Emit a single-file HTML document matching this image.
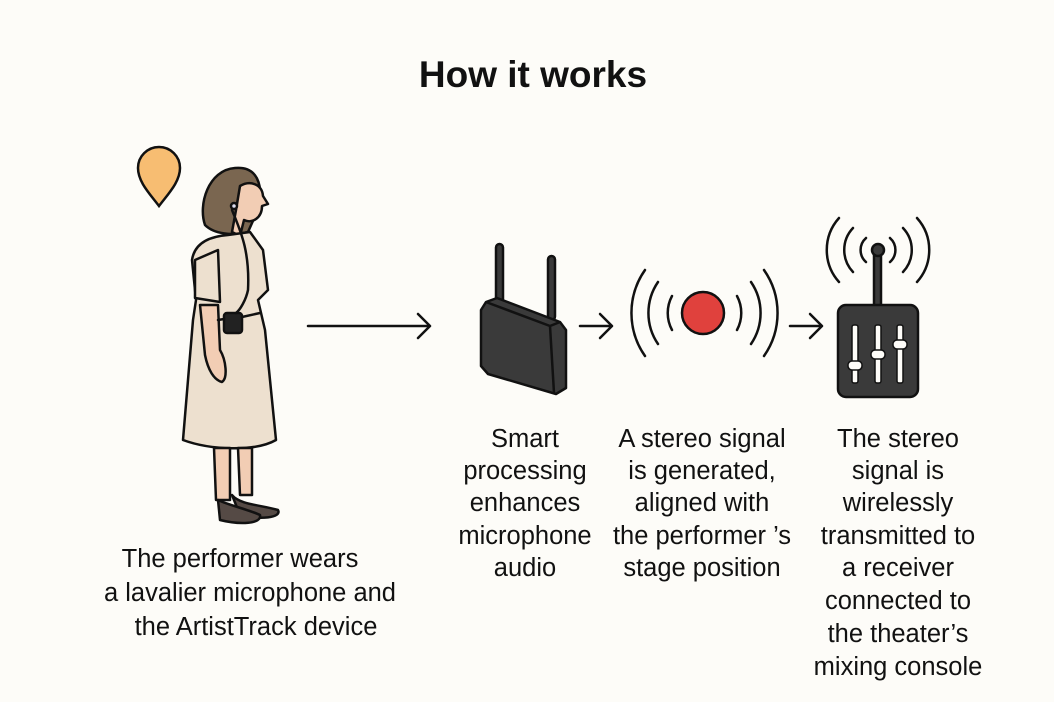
<!DOCTYPE html>
<html><head><meta charset="utf-8"><style>
html,body{margin:0;padding:0;background:#fdfcf8;}
svg{display:block}
text{font-family:"Liberation Sans",sans-serif;fill:#111;text-anchor:middle}
</style></head><body>
<svg width="1054" height="702" viewBox="0 0 1054 702" xmlns="http://www.w3.org/2000/svg">
<rect width="1054" height="702" fill="#fdfcf8"/>
<text x="533" y="87" style="font-weight:bold;font-size:37px">How it works</text>

<!-- pin -->
<path d="M159,206 C150,194 138,182 138,168 A21,21 0 0 1 180,168 C180,182 168,194 159,206 Z" fill="#f7bd72" stroke="#111" stroke-width="2.5"/>

<!-- person -->
<g stroke="#111" stroke-width="2.5" stroke-linejoin="round" stroke-linecap="round">
<path d="M205,225 C198,205 208,170 235,168 C258,166 262,185 260,205 L248,232 C232,236 214,234 205,225Z" fill="#7a6650"/>
<path d="M240,186 C250,180 262,184 263,196 L268,204 L262,206 C262,218 252,224 244,220 L240,236 L232,232 L236,210Z" fill="#f2cdb4"/>
<path d="M228,235 L250,232 L263,250 L268,290 L258,300 L265,330 L276,440 C255,452 210,450 183,440 L193,320 L196,300 L192,260 C195,240 215,236 228,235Z" fill="#ede0cf"/>
<path d="M200,305 L205,355 C208,370 214,380 222,382 C228,378 226,360 220,350 L218,305Z" fill="#f2cdb4"/>
<path d="M195,298 L195,260 L218,250 L220,302Z" fill="#ede0cf"/>
<path d="M214,448 L216,500 L230,500 L230,448Z M238,448 L240,495 L252,495 L252,448Z" fill="#f2cdb4"/>
<path d="M232,495 C240,505 262,505 278,510 C282,518 260,520 240,515 Z" fill="#554a45"/>
<path d="M218,500 C228,505 250,510 260,515 C262,524 240,525 220,520 Z" fill="#554a45"/>
<rect x="224" y="313" width="18" height="20" rx="3" fill="#222"/>
<path d="M232,210 C240,230 250,250 248,290 C246,300 240,310 236,313" fill="none"/>
<circle cx="234" cy="206" r="3" fill="#dde"/>
<path d="M218,320 L224,319 M242,317 L260,313" fill="none"/>
</g>

<!-- arrows -->
<g stroke="#111" stroke-width="2.5" fill="none" stroke-linecap="round" stroke-linejoin="round">
<path d="M308,326 H430 M418,314 L430,326 L418,338"/>
<path d="M580,326 H612 M600,314 L612,326 L600,338"/>
<path d="M790,326 H822 M810,314 L822,326 L810,338"/>
</g>

<!-- router -->
<g stroke="#111" stroke-width="2.5" stroke-linejoin="round">
<rect x="496" y="244" width="7" height="62" rx="3.5" fill="#3a3a3a"/>
<rect x="548" y="256" width="7" height="64" rx="3.5" fill="#3a3a3a"/>
<path d="M486,302 L497,298 L560,322 L566,330 L566,388 L556,394 L488,374 L481,366 L481,310Z" fill="#3a3a3a"/>
<path d="M486,302 L550,326 L560,322 M550,326 L554,393" fill="none"/>
</g>

<!-- signal -->
<circle cx="703" cy="313" r="21" fill="#e0413d" stroke="#111" stroke-width="2.5"/>
<g stroke="#111" stroke-width="2.5" fill="none" stroke-linecap="round">
<path d="M672,296 A36,36 0 0 0 672,330"/>
<path d="M658,282 A55,55 0 0 0 658,344"/>
<path d="M645,270 A75,75 0 0 0 645,356"/>
<path d="M737,296 A36,36 0 0 1 737,330"/>
<path d="M751,282 A55,55 0 0 1 751,344"/>
<path d="M764,270 A75,75 0 0 1 764,356"/>
</g>

<!-- mixer -->
<g stroke="#111" stroke-width="2.5">
<rect x="874" y="250" width="7" height="58" fill="#3a3a3a"/>
<circle cx="878" cy="250" r="6" fill="#3a3a3a"/>
<rect x="838" y="305" width="80" height="92" rx="8" fill="#3a3a3a"/>
</g>
<g fill="#fdfcf8" stroke="#111" stroke-width="1.5">
<rect x="852" y="325" width="6" height="58" rx="2"/>
<rect x="875" y="325" width="6" height="58" rx="2"/>
<rect x="897" y="325" width="6" height="58" rx="2"/>
<rect x="848" y="361" width="14" height="9" rx="4"/>
<rect x="871" y="350" width="14" height="9" rx="4"/>
<rect x="893" y="340" width="14" height="9" rx="4"/>
</g>
<g stroke="#111" stroke-width="2.5" fill="none" stroke-linecap="round">
<path d="M866,262 A16,16 0 0 1 866,238"/>
<path d="M890,262 A16,16 0 0 0 890,238"/>
<path d="M853,272 A32,32 0 0 1 853,228"/>
<path d="M903,272 A32,32 0 0 0 903,228"/>
<path d="M839,282 A48,48 0 0 1 839,218"/>
<path d="M917,282 A48,48 0 0 0 917,218"/>
</g>

<!-- labels -->
<g style="font-size:25.5px">
<text x="240" y="567">The performer wears</text>
<text x="250" y="601">a lavalier microphone and</text>
<text x="256" y="635">the ArtistTrack device</text>

<text x="525" y="447">Smart</text>
<text x="525" y="479">processing</text>
<text x="525" y="511">enhances</text>
<text x="525" y="544">microphone</text>
<text x="525" y="576">audio</text>

<text x="702" y="447">A stereo signal</text>
<text x="702" y="479">is generated,</text>
<text x="702" y="511">aligned with</text>
<text x="702" y="544">the performer ’s</text>
<text x="702" y="576">stage position</text>

<text x="898" y="447">The stereo</text>
<text x="898" y="479">signal is</text>
<text x="898" y="511">wirelessly</text>
<text x="898" y="544">transmitted to</text>
<text x="898" y="576">a receiver</text>
<text x="898" y="609">connected to</text>
<text x="898" y="642">the theater’s</text>
<text x="898" y="675">mixing console</text>
</g>
</svg>
</body></html>
